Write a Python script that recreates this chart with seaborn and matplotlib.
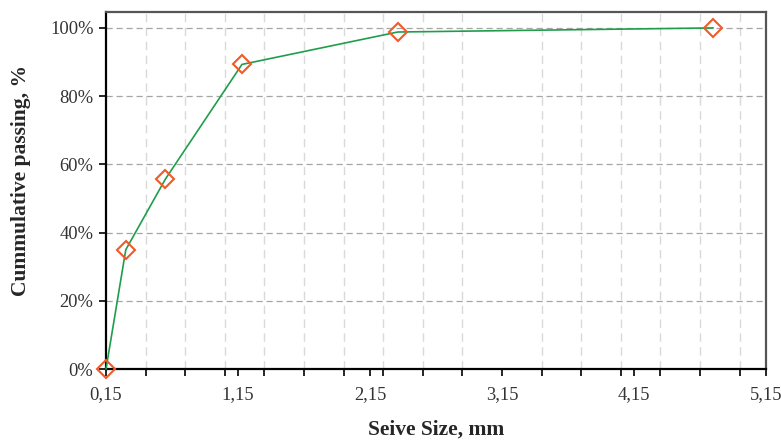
import matplotlib
matplotlib.use("Agg")
import matplotlib.pyplot as plt
import seaborn as sns
import numpy as np
import pandas as pd
from matplotlib.ticker import FixedLocator, FuncFormatter, PercentFormatter

# sieve sizes (mm) and cumulative passing (fraction)
sieve_size = [0.15, 0.30, 0.60, 1.18, 2.36, 4.75]
passing = [0.0, 0.35, 0.557, 0.893, 0.988, 1.0]

x_ticks = [0.15, 1.15, 2.15, 3.15, 4.15, 5.15]
y_ticks = [0.0, 0.2, 0.4, 0.6, 0.8, 1.0]

df = pd.DataFrame({"size": sieve_size, "passing": passing})

sns.set_style("white")
plt.rcParams["font.family"] = ["Liberation Serif", "DejaVu Serif"]

fig = plt.figure(figsize=(7.81, 4.4), dpi=100)
ax = fig.add_axes([0.1357, 0.161, 0.8451, 0.812])

sns.lineplot(data=df, x="size", y="passing", ax=ax, color="#1e9e4b", linewidth=1.2,
             marker="D", markersize=9, markerfacecolor="none",
             markeredgecolor="#f05a28", markeredgewidth=1.5, clip_on=False, zorder=3)

ax.set_xlim(0.15, 5.15)
ax.set_ylim(0, 1.047)

ax.xaxis.set_major_locator(FixedLocator(x_ticks))
ax.xaxis.set_minor_locator(FixedLocator(np.arange(0.45, 5.15, 0.3)))
ax.xaxis.set_major_formatter(FuncFormatter(lambda v, p: f"{v:.2f}".replace(".", ",")))
ax.yaxis.set_major_locator(FixedLocator(y_ticks))
ax.yaxis.set_major_formatter(PercentFormatter(1, decimals=0))

# gridlines
ax.grid(axis="y", which="major", color="#a6a6a6", linestyle=(0, (5, 3)), linewidth=0.9)
ax.grid(axis="x", which="minor", color="#d9d9d9", linestyle=(0, (6, 4)), linewidth=1.0)
ax.set_axisbelow(True)

ax.tick_params(axis="both", which="both", direction="out", length=5, width=1.2,
               color="black", labelsize=13.3, labelcolor="#333333")
ax.tick_params(axis="x", which="both", bottom=True, pad=7)
ax.tick_params(axis="y", left=True, pad=4)

for side in ["left", "bottom"]:
    ax.spines[side].set_color("black")
    ax.spines[side].set_linewidth(1.6)
for side in ["top", "right"]:
    ax.spines[side].set_color("#555555")
    ax.spines[side].set_linewidth(1.6)

ax.set_xlabel("Seive Size, mm", fontsize=15.5, fontweight="bold", labelpad=12)
ax.set_ylabel("Cummulative passing, %", fontsize=15.5, fontweight="bold", labelpad=14)
ax.yaxis.label.set_y(0.527)

fig.savefig("out.png", dpi=100)
